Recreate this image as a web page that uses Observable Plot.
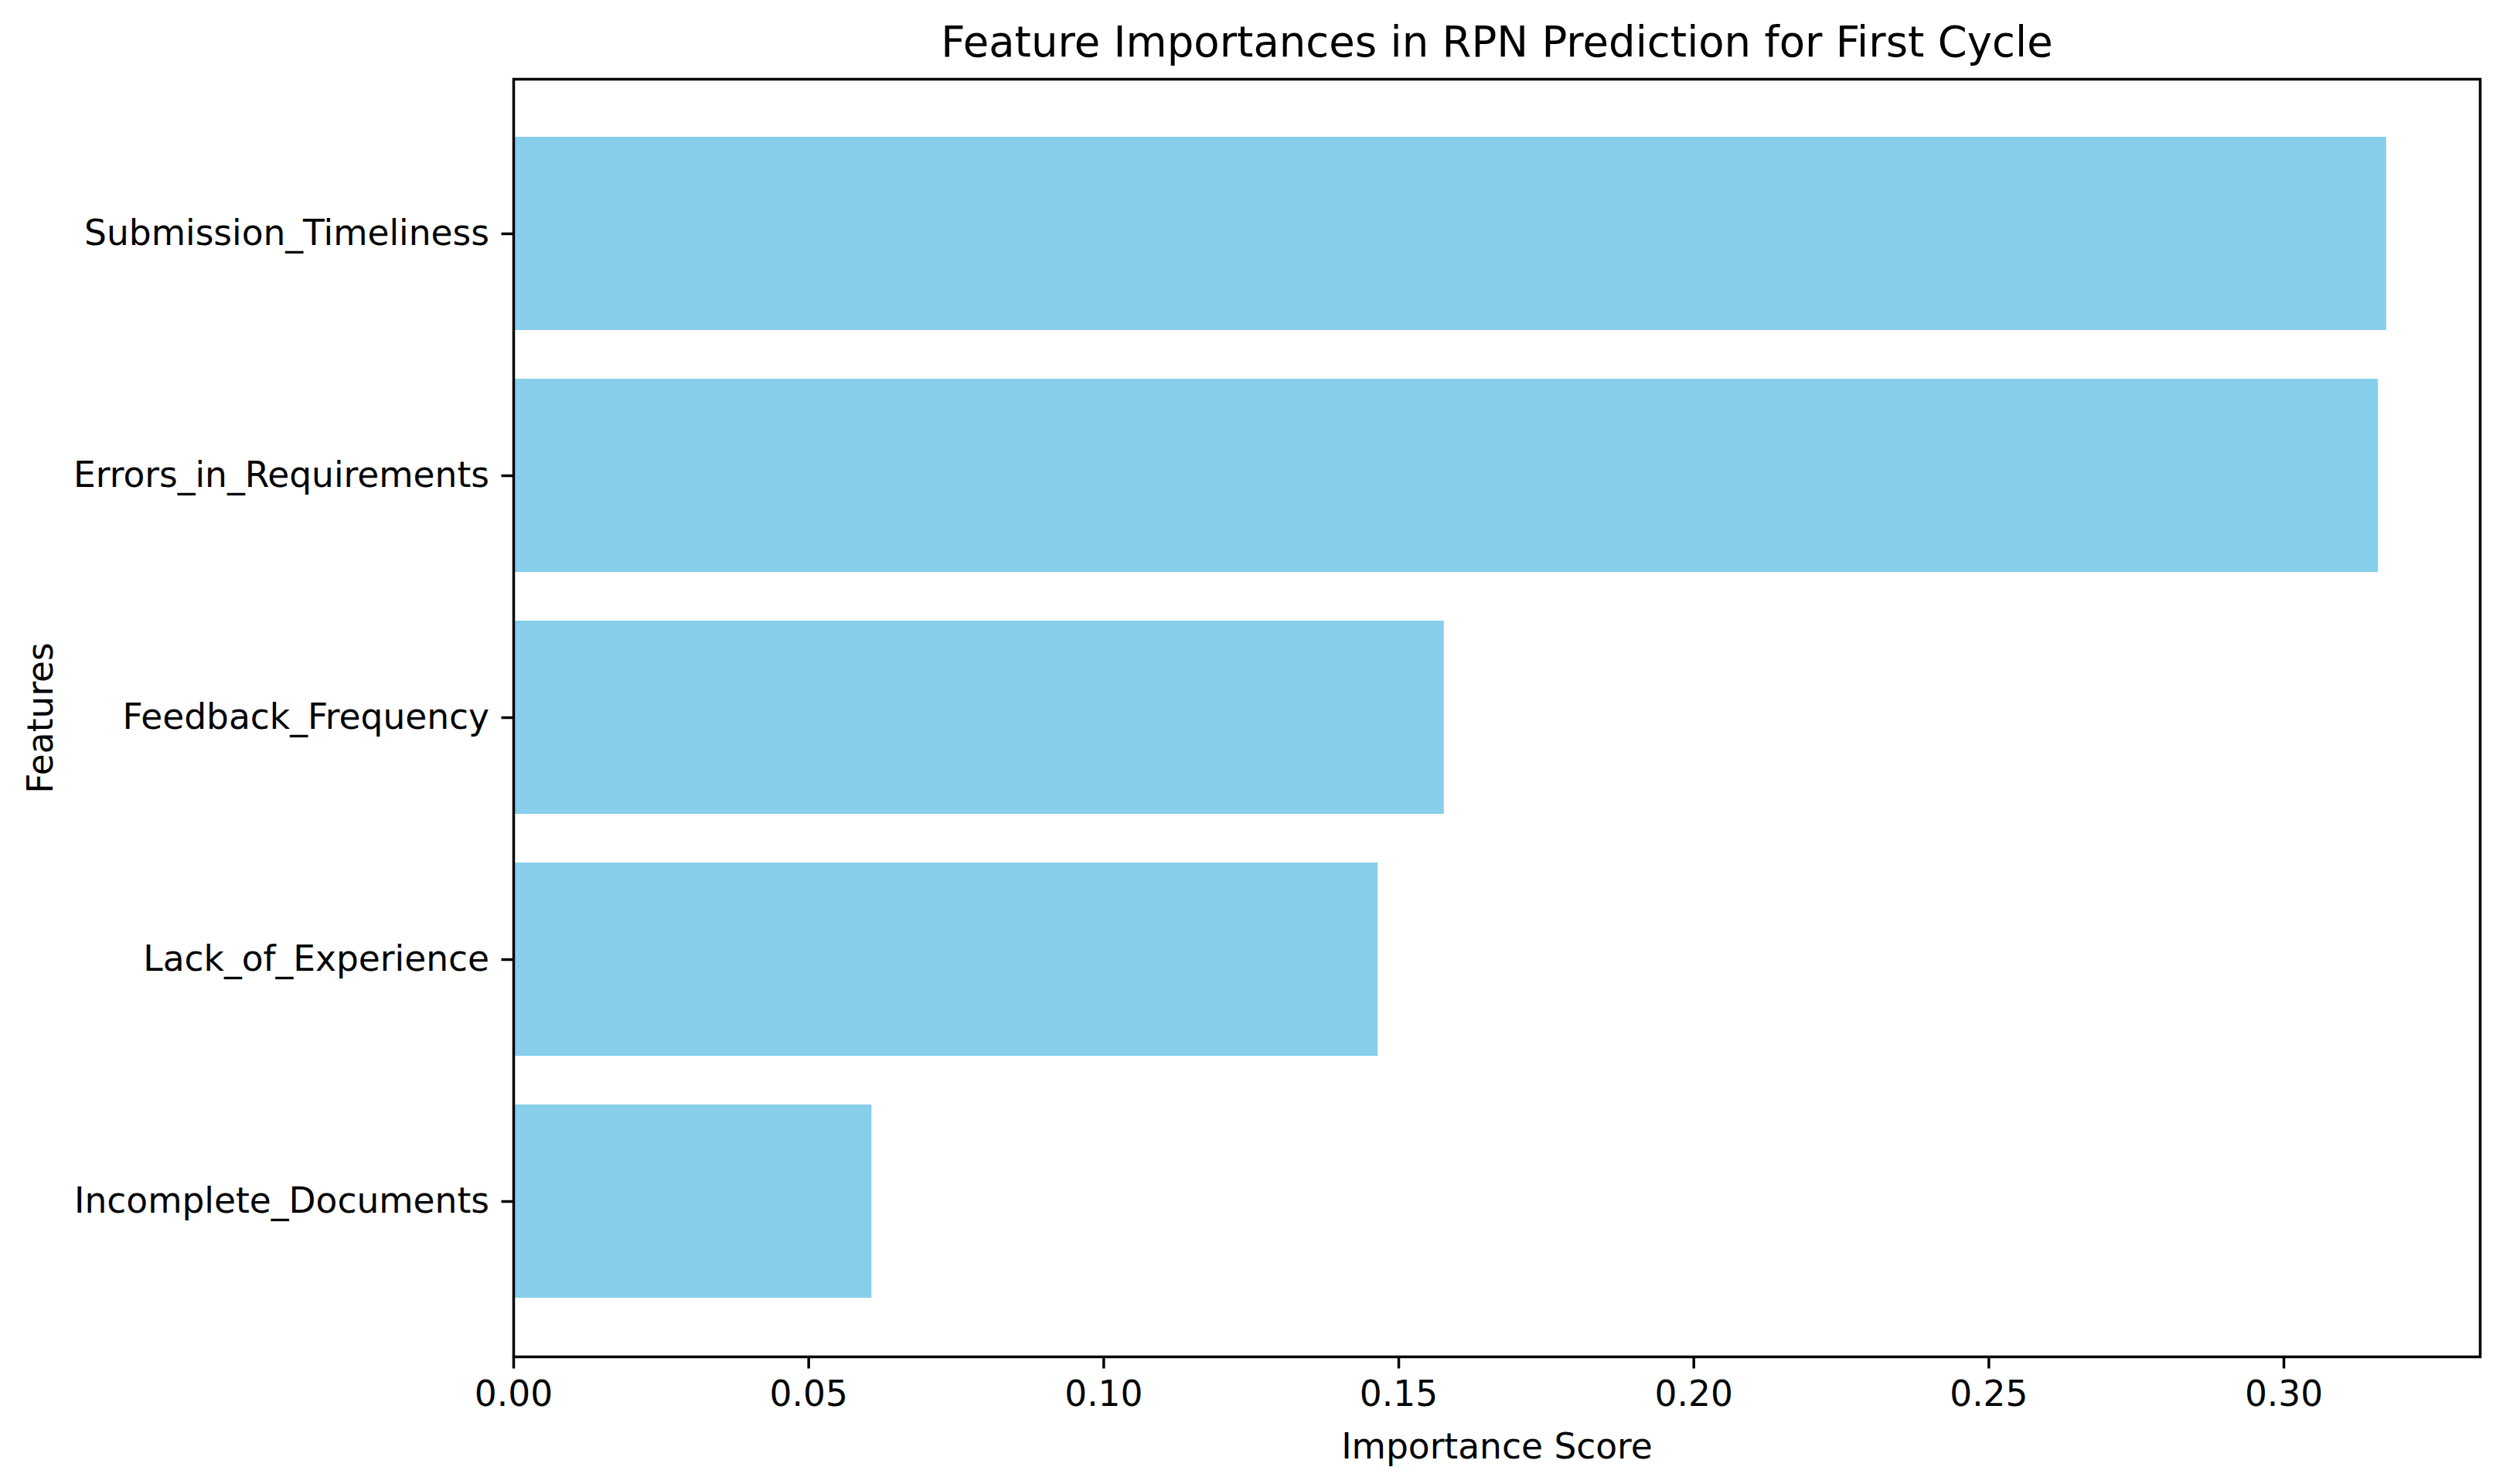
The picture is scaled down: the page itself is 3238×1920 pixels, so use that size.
<!DOCTYPE html>
<html>
<head>
<meta charset="utf-8">
<script src="https://cdn.jsdelivr.net/npm/d3@7"></script>
<script src="https://cdn.jsdelivr.net/npm/@observablehq/plot@0.6"></script>
<style>
  html, body { margin: 0; padding: 0; background: #ffffff; }
  #chart { width: 3238px; height: 1920px; }
</style>
</head>
<body>
<div id="chart"></div>
<script>
// ---- Data ----
const features = [
  "Submission_Timeliness",
  "Errors_in_Requirements",
  "Feedback_Frequency",
  "Lack_of_Experience",
  "Incomplete_Documents"
];
const importances = [0.3174, 0.3160, 0.1577, 0.1465, 0.0607];
const xTicks = [0.00, 0.05, 0.10, 0.15, 0.20, 0.25, 0.30];
const titleText = "Feature Importances in RPN Prediction for First Cycle";
const xLabel = "Importance Score";
const yLabel = "Features";

const data = features.map((f, i) => ({feature: f, value: importances[i]}));
const xMax = d3.max(importances) * 1.05;

const chart = Plot.plot({
  width: 3238,
  height: 1920,
  marginTop: 102,
  marginLeft: 664,
  marginRight: 30,
  marginBottom: 165,
  style: {
    fontFamily: "'DejaVu Sans', sans-serif",
    fontSize: "45.5px",
    color: "#000000",
    background: "#ffffff",
    overflow: "visible"
  },
  x: { domain: [0, xMax], label: null },
  y: { type: "band", domain: features, paddingInner: 0.2, paddingOuter: 0.236, align: 0.5, label: null },
  marks: [
    Plot.barX(data, { x: "value", y: "feature", fill: "#87CEEB" }),
    Plot.axisX({
      ticks: xTicks,
      tickFormat: d3.format(".2f"),
      tickSize: 15.5,
      tickPadding: 16,
      strokeWidth: 3.5,
      fontSize: 45.5,
      label: null
    }),
    Plot.axisY({
      tickSize: 15.5,
      tickPadding: 16,
      strokeWidth: 3.5,
      fontSize: 45.5,
      label: null
    }),
    Plot.frame({ stroke: "#000000", strokeWidth: 3.5 }),
    Plot.text([titleText], {
      text: d => d,
      frameAnchor: "top",
      textAnchor: "middle",
      lineAnchor: "bottom",
      dy: -30,
      fontSize: 54.5,
      fill: "#000000"
    }),
    Plot.text([xLabel], {
      text: d => d,
      frameAnchor: "bottom",
      textAnchor: "middle",
      lineAnchor: "bottom",
      dy: 131,
      fontSize: 45.5,
      fill: "#000000"
    }),
    Plot.text([yLabel], {
      text: d => d,
      frameAnchor: "left",
      textAnchor: "middle",
      lineAnchor: "bottom",
      rotate: -90,
      dx: -597,
      fontSize: 45.5,
      fill: "#000000"
    })
  ]
});

document.getElementById("chart").appendChild(chart);
</script>
</body>
</html>
